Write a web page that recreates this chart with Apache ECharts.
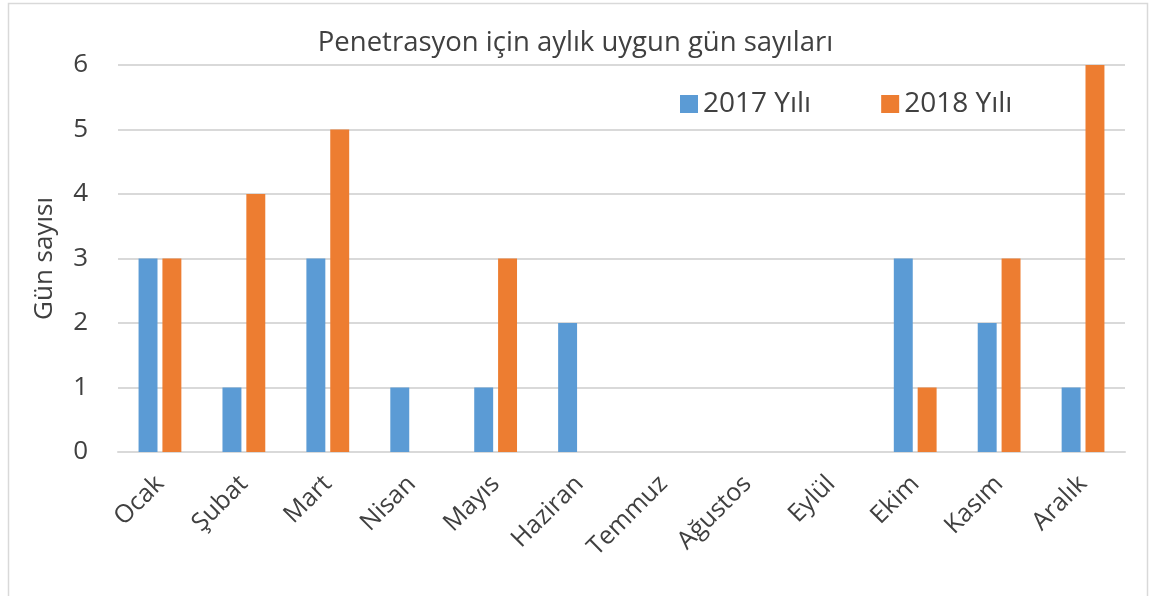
<!DOCTYPE html>
<html>
<head>
<meta charset="utf-8">
<title>Penetrasyon için aylık uygun gün sayıları</title>
<script src="https://cdn.jsdelivr.net/npm/echarts@6/dist/echarts.min.js"></script>
<style>
  html, body { margin: 0; padding: 0; background: #fff; }
  #chart { width: 1151px; height: 596px; }
</style>
</head>
<body>
<div id="chart"></div>
<script>
// aylar
var months = ["Ocak", "Şubat", "Mart", "Nisan", "Mayıs", "Haziran", "Temmuz", "Ağustos", "Eylül", "Ekim", "Kasım", "Aralık"];
// gün sayıları
var days2017 = [3, 1, 3, 1, 1, 2, 0, 0, 0, 3, 2, 1];
var days2018 = [3, 4, 5, 0, 3, 0, 0, 0, 0, 1, 3, 6];
var seriesNames = ["2017 Yılı", "2018 Yılı"];

var font = "'Open Sans', sans-serif";
var textColor = "#404040";

var chart = echarts.init(document.getElementById("chart"));

chart.setOption({
  animation: false,
  color: ["#5b9bd5", "#ed7d31"],
  title: {
    text: "Penetrasyon için aylık uygun gün sayıları",
    left: "center",
    top: 24,
    textStyle: { fontFamily: font, fontSize: 27.5, fontWeight: "normal", color: textColor }
  },
  graphic: [{
    type: "rect",
    shape: { x: 8.5, y: 3.5, width: 1139, height: 640 },
    style: { fill: "none", stroke: "#d9d9d9", lineWidth: 1.5 },
    silent: true
  }],
  legend: {
    top: 85,
    left: 675,
    itemWidth: 18,
    itemHeight: 18,
    itemGap: 70,
    icon: "rect",
    textStyle: { fontFamily: font, fontSize: 28, color: textColor }
  },
  grid: { left: 118, right: 26, top: 65, bottom: 144 },
  xAxis: {
    type: "category",
    data: months,
    axisLine: { lineStyle: { color: "#d9d9d9", width: 2 } },
    axisTick: { length: 8, lineStyle: { color: "#d9d9d9", width: 2 } },
    axisLabel: {
      interval: 0,
      rotate: 45,
      margin: 28,
      fontFamily: font,
      fontSize: 25,
      color: textColor
    }
  },
  yAxis: {
    type: "value",
    min: 0,
    max: 6,
    interval: 1,
    name: "Gün sayısı",
    nameLocation: "middle",
    nameGap: 60,
    nameTextStyle: { fontFamily: font, fontSize: 26, color: textColor },
    axisLine: { show: false },
    axisTick: { show: false },
    axisLabel: { margin: 30, fontFamily: font, fontSize: 26, color: textColor },
    splitLine: { lineStyle: { color: "#d9d9d9", width: 2 } }
  },
  series: [
    {
      name: seriesNames[0],
      type: "bar",
      data: days2017,
      barGap: "26%",
      barCategoryGap: "49%"
    },
    {
      name: seriesNames[1],
      type: "bar",
      data: days2018,
      barGap: "26%",
      barCategoryGap: "49%"
    }
  ]
});
</script>
</body>
</html>
